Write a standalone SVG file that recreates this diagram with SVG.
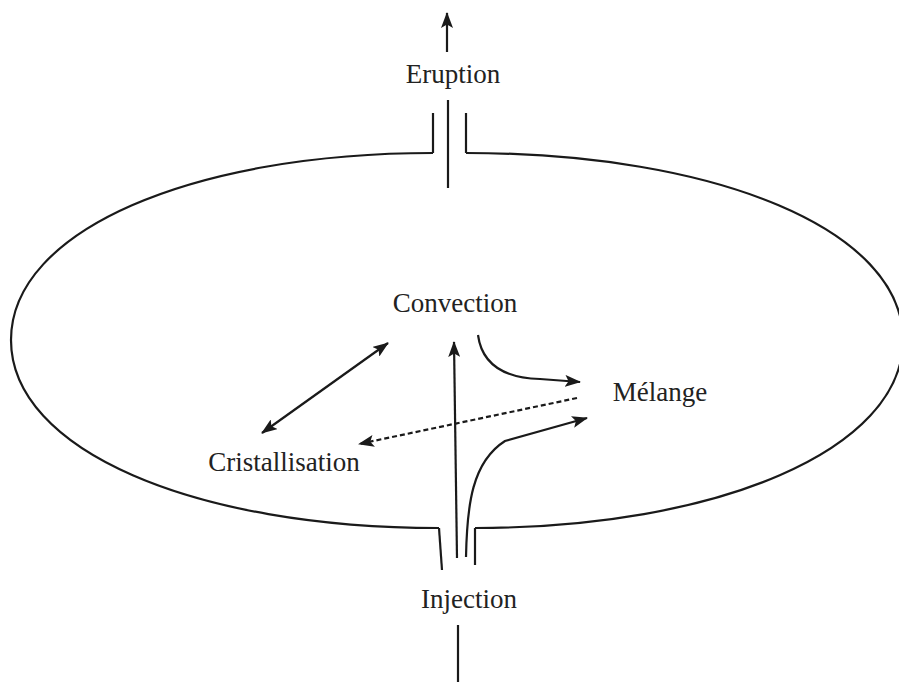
<svg xmlns="http://www.w3.org/2000/svg" width="899" height="682" viewBox="0 0 899 682">
<defs>
<marker id="ah" viewBox="0 0 16 12" refX="15" refY="6" markerWidth="16" markerHeight="12" markerUnits="userSpaceOnUse" orient="auto-start-reverse">
<path d="M0,0 L16,6 L0,12 L3.5,6 Z" fill="#1a1a1a"/>
</marker>
<style>
.ln{fill:none;stroke:#1a1a1a;stroke-width:2.2;}
.lbl{font-family:"Liberation Serif","Times New Roman",serif;font-size:27px;fill:#222;text-anchor:middle;}
</style>
</defs>
<rect width="899" height="682" fill="#fff"/>
<g id="chamber">
<path class="ln" d="M433,153 C193,153 11,230 11,340 C11,450 193,528 439,528"/>
<path class="ln" d="M475,528 C717,528 903,450 903,340 C903,230 717,153 466,153"/>
<path class="ln" d="M433,153 L433,113"/>
<path class="ln" d="M466,153 L466,113"/>
<path class="ln" d="M439,528 L442,570"/>
<path class="ln" d="M475,528 L475,565"/>
</g>
<g id="eruption"><text class="lbl" x="453" y="83">Eruption</text></g>
<g id="convection"><text class="lbl" x="455" y="312">Convection</text></g>
<g id="melange"><text class="lbl" x="660" y="401">Mélange</text></g>
<g id="cristallisation"><text class="lbl" x="284" y="471">Cristallisation</text></g>
<g id="injection"><text class="lbl" x="469" y="608">Injection</text></g>
<g id="connectors">
<path class="ln" d="M448,100 L448,188"/>
<path class="ln" d="M447,52 L447,13" marker-end="url(#ah)"/>
<path class="ln" d="M458,625 L458,682"/>
<path class="ln" d="M457,558 L454,342" marker-end="url(#ah)"/>
<path class="ln" d="M466,557 C467,505 472,462 505,441 L587,418" marker-end="url(#ah)"/>
<path class="ln" d="M478,335 C482,365 505,378 540,379 L580,382" marker-end="url(#ah)"/>
<path class="ln" d="M262,433 L388,343" marker-start="url(#ah)" marker-end="url(#ah)"/>
<path class="ln" d="M577,398 L359,444" stroke-dasharray="5,3" marker-end="url(#ah)"/>
</g>
</svg>
